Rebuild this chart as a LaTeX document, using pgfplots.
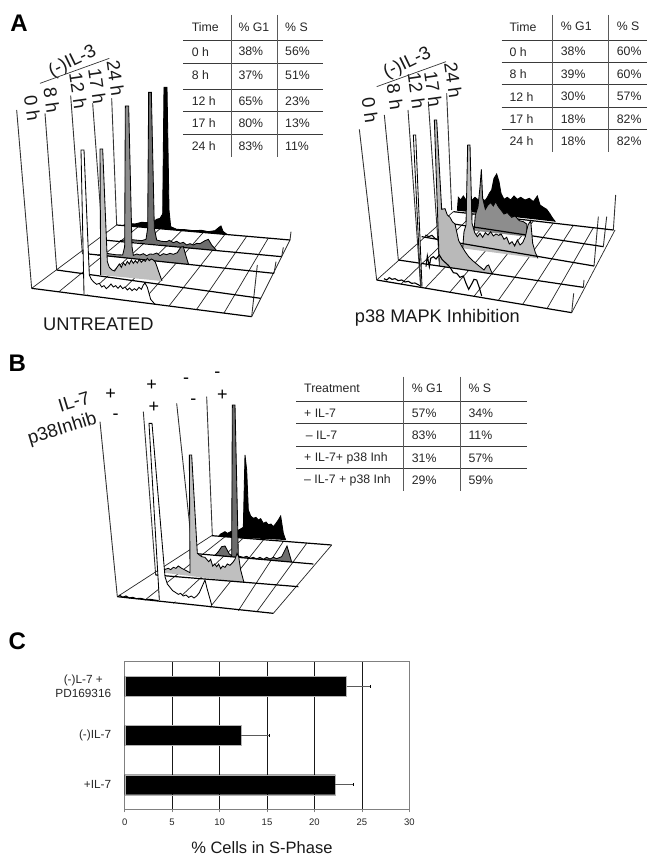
\documentclass[border=0pt]{standalone}
\usepackage{pgfplots}
\pgfplotsset{compat=1.18}
\usepackage{fontspec}
\setmainfont{Liberation Sans}
\definecolor{tl}{HTML}{3A3A3A}
\definecolor{ag}{HTML}{808080}
\pgfplotsset{panel/.style={at={(0pt,0pt)},anchor=south west,scale only axis,width=647pt,height=856pt,hide axis,clip=false,y dir=reverse}}
\newcommand\gl[1]{\addplot[black!85,line width=.7pt] coordinates {#1};}
\newcommand\wall[1]{\addplot[black!80,line width=.9pt] coordinates {#1};}
\newcommand\base[1]{\addplot[black,line width=1.2pt] coordinates {#1};}
\newcommand\tr[2]{\addplot[fill=#1,draw=none] coordinates {#2}--cycle;\addplot[black,line width=.85pt] coordinates {#2};}
\newcommand\noisy[1]{\addplot[black,line width=1.1pt] coordinates {#1};}
\newcommand\tb[3]{\node[anchor=west,font=\fontsize{12.3}{14}\selectfont,text=black!85,inner sep=0pt] at (axis cs:#1,#2) {#3};}
\newcommand\rl[3]{\node[rotate=#3,font=\fontsize{18.5}{20}\selectfont,inner sep=0pt,text=black!90] at (axis cs:#1) {#2};}
\newcommand\hl[3]{\draw[tl,line width=.75pt] (axis cs:#1,#3)--(axis cs:#2,#3);}
\newcommand\vl[3]{\draw[ag!70!black,line width=.85pt] (axis cs:#1,#2)--(axis cs:#1,#3);}
\newcommand\sgnx[3]{\node[font=\fontsize{18}{20}\selectfont,inner sep=0pt] at (axis cs:#1,#2) {#3};}
\begin{document}
\begin{tikzpicture}
\path[use as bounding box] (0,0) rectangle (647pt,856pt);
% --- text and tables, coordinates in 3x pixels
\begin{axis}[panel,xmin=0,xmax=1941,ymin=0,ymax=2568]
\node[font=\fontsize{24}{26}\bfseries] at (axis cs:57,70) {A};
\node[font=\fontsize{24}{26}\bfseries] at (axis cs:52,1090) {B};
\node[font=\fontsize{24}{26}\bfseries] at (axis cs:52,1925) {C};
\node[font=\fontsize{18.3}{20}\selectfont,text=black!90] at (axis cs:295,972) {UNTREATED};
\node[font=\fontsize{18.2}{20}\selectfont,text=black!90] at (axis cs:1312,953) {p38 MAPK Inhibition};
% table 1
\hl{550}{970}{122}\hl{550}{970}{190}\hl{550}{970}{268}\hl{550}{970}{335}\hl{550}{970}{403}
\vl{693}{45}{470}\vl{832}{45}{470}
\tb{575}{82}{Time}\tb{715}{82}{\% G1}\tb{855}{82}{\% S}
\tb{575}{155}{0 h}\tb{715}{155}{38\%}\tb{855}{155}{56\%}
\tb{575}{225}{8 h}\tb{715}{225}{37\%}\tb{855}{225}{51\%}
\tb{575}{303}{12 h}\tb{715}{303}{65\%}\tb{855}{303}{23\%}
\tb{575}{370}{17 h}\tb{715}{370}{80\%}\tb{855}{370}{13\%}
\tb{575}{438}{24 h}\tb{715}{438}{83\%}\tb{855}{438}{11\%}
% table 2
\hl{1505}{1941}{120}\hl{1505}{1941}{187}\hl{1505}{1941}{253}\hl{1505}{1941}{322}\hl{1505}{1941}{388}
\vl{1657}{45}{455}\vl{1825}{45}{455}
\tb{1528}{80}{Time}\tb{1682}{80}{\% G1}\tb{1850}{80}{\% S}
\tb{1528}{155}{0 h}\tb{1682}{155}{38\%}\tb{1850}{155}{60\%}
\tb{1528}{222}{8 h}\tb{1682}{222}{39\%}\tb{1850}{222}{60\%}
\tb{1528}{290}{12 h}\tb{1682}{290}{30\%}\tb{1850}{290}{57\%}
\tb{1528}{357}{17 h}\tb{1682}{357}{18\%}\tb{1850}{357}{82\%}
\tb{1528}{423}{24 h}\tb{1682}{423}{18\%}\tb{1850}{423}{82\%}
% table 3
\hl{888}{1580}{1205}\hl{888}{1580}{1271}\hl{888}{1580}{1339}\hl{888}{1580}{1405}
\vl{1211}{1130}{1472}\vl{1382}{1130}{1472}
\tb{912}{1166}{Treatment}\tb{1235}{1166}{\% G1}\tb{1405}{1166}{\% S}
\tb{912}{1240}{+ IL-7}\tb{1235}{1240}{57\%}\tb{1405}{1240}{34\%}
\tb{917}{1307}{– IL-7}\tb{1235}{1307}{83\%}\tb{1405}{1307}{11\%}
\tb{912}{1374}{+ IL-7+ p38 Inh}\tb{1235}{1374}{31\%}\tb{1405}{1374}{57\%}
\tb{912}{1442}{– IL-7 + p38 Inh}\tb{1235}{1442}{29\%}\tb{1405}{1442}{59\%}
% rotated labels panel A
\rl{218,185}{(-)IL-3}{26}
\rl{97,325}{0 h}{-82}\rl{155,300}{8 h}{-82}\rl{235,272}{12 h}{-82}\rl{292,258}{17 h}{-82}\rl{347,235}{24 h}{-82}
\rl{1222,190}{(-)IL-3}{26}
\rl{1110,330}{0 h}{-82}\rl{1185,290}{8 h}{-82}\rl{1250,272}{12 h}{-82}\rl{1300,268}{17 h}{-82}\rl{1360,240}{24 h}{-82}
\addplot[black!80,line width=.7pt] coordinates {(120,250)(328,175)};
\addplot[black!80,line width=.7pt] coordinates {(1130,260)(1338,185)};
% panel B labels
\rl{222,1205}{IL-7}{17}
\rl{187,1288}{p38Inhib}{17}
\sgnx{332}{1182}{+}\sgnx{455}{1157}{+}\sgnx{558}{1142}{-}\sgnx{652}{1123}{-}\sgnx{347}{1251}{-}\sgnx{462}{1223}{+}\sgnx{580}{1206}{-}\sgnx{667}{1186}{+}
\end{axis}
% --- panel A left, 3x pixels from (20,190)
\begin{axis}[panel,xmin=-60,xmax=1881,ymin=-570,ymax=1998]
\wall{(-10,-240)(35,295)}\wall{(75,-230)(110,240)}\wall{(152,-283)(187,190)}\wall{(218,-260)(248,150)}\wall{(275,-275)(290,105)}
\gl{(35,295)(290,105)}
\gl{(117,305)(355,110)}\gl{(200,316)(420,116)}\gl{(282,326)(485,122)}\gl{(365,337)(550,127)}\gl{(447,348)(615,133)}\gl{(530,358)(680,139)}\gl{(612,369)(745,144)}
\gl{(695,380)(810,150)}
\wall{(810,150)(813,125)}\wall{(785,200)(790,172)}\wall{(762,250)(768,215)}\wall{(695,380)(712,225)}
\tr{black}{(310,106)(325,100)(345,102)(365,97)(385,98)(400,95)(410,88)(420,85)(428,72)(432,-308)(441,-308)(447,60)(452,110)(470,118)(495,119)(520,122)(545,121)(565,125)(585,122)(597,112)(603,108)(609,124)(622,134)}
\base{(290,105)(810,150)}
\tr{ag!85!black}{(300,152)(325,148)(345,150)(365,152)(378,148)(383,115)(386,-293)(394,-293)(403,115)(410,150)(425,154)(440,155)(448,151)(460,158)(470,154)(480,160)(490,157)(500,165)(510,161)(520,165)(530,160)(540,161)(555,152)(565,148)(575,165)(590,182)}
\base{(250,150)(785,200)}
\tr{ag!90!white}{(232,196)(260,190)(285,194)(308,195)(314,170)(316,-252)(326,-252)(336,170)(340,196)(350,192)(360,195)(370,191)(380,197)(390,192)(400,193)(410,189)(420,197)(430,191)(440,194)(450,190)(460,193)(472,188)(482,172)(490,170)(497,195)(506,224)}
\base{(187,190)(762,250)}
\tr{gray!50}{(242,255)(240,-123)(248,-123)(262,215)(268,232)(276,240)(284,243)(291,232)(298,222)(304,232)(310,218)(316,226)(322,214)(328,222)(334,210)(340,220)(346,212)(352,219)(358,208)(364,217)(370,210)(376,214)(382,205)(388,212)(394,207)(400,210)(406,216)(416,245)(426,273)}
\base{(110,240)(722,325)}
\tr{white}{(192,312)(183,-120)(192,-120)(208,255)(214,268)(222,277)(230,283)(238,280)(245,291)(252,287)(259,296)(266,290)(273,282)(280,291)(287,287)(294,295)(301,287)(308,296)(315,291)(322,300)(329,294)(336,302)(343,296)(350,301)(357,292)(364,298)(370,285)(375,279)(382,292)(392,328)(405,343)}
\base{(35,295)(695,380)}
\end{axis}
% --- panel A right floor, 3x pixels from (370,180)
\begin{axis}[panel,xmin=-1110,xmax=831,ymin=-540,ymax=2028]
\wall{(-32,-152)(20,300)}\wall{(43,-195)(85,240)}
\gl{(20,300)(250,95)}
\gl{(93,312)(310,102)}\gl{(166,324)(370,109)}\gl{(239,337)(430,116)}\gl{(312,349)(490,123)}\gl{(385,361)(550,129)}\gl{(458,373)(610,136)}\gl{(531,386)(670,143)}
\gl{(605,398)(735,150)}
\wall{(730,150)(737,45)}\wall{(700,200)(710,110)}\wall{(672,258)(685,110)}\wall{(640,322)(642,300)}\wall{(605,398)(611,340)}
\end{axis}
% --- panel A right traces, 3x pixels from (400,110)
\begin{axis}[panel,xmin=-1200,xmax=741,ymin=-330,ymax=2238]
\wall{(85,-25)(118,455)}\wall{(140,-50)(155,300)}
\tr{black}{(172,302)(175,262)(182,270)(190,258)(198,270)(205,265)(215,272)(225,262)(235,270)(245,265)(255,272)(262,262)(268,250)(275,240)(282,205)(290,192)(297,215)(303,250)(312,268)(322,262)(332,270)(342,258)(352,268)(362,262)(375,270)(388,265)(400,275)(412,258)(420,285)(430,292)(440,298)(450,312)(458,325)(466,335)}
\base{(160,305)(640,360)}
\tr{ag!90!white}{(222,362)(226,315)(234,290)(240,230)(244,178)(248,265)(256,298)(264,285)(272,278)(280,288)(287,275)(295,290)(303,300)(312,312)(322,308)(335,322)(345,318)(358,332)(370,335)(380,342)(380,380)}
\base{(115,335)(610,410)}
\tr{gray!50}{(188,415)(192,365)(198,345)(203,105)(210,105)(216,340)(224,368)(232,380)(240,370)(248,382)(256,368)(264,375)(272,365)(280,378)(288,372)(296,376)(304,373)(312,388)(320,382)(328,402)(336,395)(344,408)(352,390)(360,405)(368,398)(376,380)(384,345)(392,332)(398,400)(406,428)(414,445)}
\base{(65,380)(582,468)}
\noisy{(76,375)(86,380)(96,376)(106,386)(116,390)}
\tr{gray!55}{(118,468)(103,30)(110,30)(125,298)(135,296)(142,315)(150,322)(157,335)(165,342)(170,365)(176,392)(186,410)(196,426)(206,440)(218,452)(230,462)(242,472)(252,480)(260,468)(266,465)(272,480)(278,493)}
\base{(-5,450)(550,532)}
\tr{white}{(62,530)(40,75)(47,75)(66,530)}
\wall{(24,0)(62,530)}
\noisy{(-48,506)(-40,510)(-32,503)(-24,508)(-15,506)(-5,512)(5,510)(15,516)(25,514)(35,520)(45,519)(60,527)}
\noisy{(78,470)(82,438)(88,470)(92,445)(100,440)(108,447)(118,435)(126,448)(134,456)(145,466)(152,475)(160,488)(170,490)(180,502)(190,498)(198,520)(206,538)(215,522)(222,508)(230,510)(237,530)(245,558)}
\base{(-70,510)(515,608)}
\end{axis}
% --- panel B, 3x pixels from (110,440)
\begin{axis}[panel,xmin=-330,xmax=1611,ymin=-1320,ymax=1248]
\wall{(-30,-55)(22,470)}\wall{(100,-85)(137,405)}\wall{(200,-110)(248,340)}\wall{(290,-130)(307,287)}
\gl{(22,470)(305,287)}
\gl{(105,480)(345,290)}\gl{(190,490)(400,294)}\gl{(300,502)(460,300)}\gl{(385,512)(520,304)}\gl{(440,516)(590,310)}
\gl{(490,520)(665,315)}
\tr{black}{(325,290)(332,282)(345,275)(352,280)(360,276)(368,272)(375,270)(382,272)(390,268)(400,262)(405,45)(410,90)(415,210)(422,228)(430,235)(438,232)(445,240)(452,236)(460,250)(468,246)(475,254)(483,252)(490,260)(498,250)(505,240)(512,228)(520,280)(527,300)}
\base{(305,287)(665,315)}
\tr{ag!85!black}{(315,346)(325,335)(335,320)(345,318)(358,342)(365,347)(367,-105)(375,-105)(385,348)(400,352)(410,349)(420,355)(430,352)(440,357)(450,352)(460,358)(470,352)(480,357)(490,352)(500,356)(515,350)(525,330)(531,318)(545,366)}
\base{(248,340)(610,372)}
\tr{gray!50}{(160,398)(165,388)(175,385)(182,389)(190,382)(198,385)(205,378)(215,385)(225,390)(240,398)(238,45)(245,45)(262,340)(268,345)(275,350)(285,352)(290,358)(296,365)(302,358)(308,378)(314,372)(320,380)(326,372)(332,386)(338,378)(345,382)(352,372)(360,376)(368,368)(375,358)(381,340)(386,350)(392,390)(402,428)}
\base{(137,405)(565,440)}
\tr{white}{(148,480)(117,-50)(126,-50)(165,410)(172,432)(180,442)(188,452)(196,457)(205,463)(212,460)(220,468)(228,465)(236,472)(244,468)(252,474)(260,468)(268,458)(276,440)(285,420)(291,445)(298,470)(305,495)}
\noisy{(28,465)(38,472)(48,468)(58,474)(68,472)(78,476)(92,475)(105,479)(120,478)(145,482)}
\base{(22,470)(490,520)}
\end{axis}
% --- panel C
\begin{axis}[at={(124.7pt,46.7pt)},anchor=south west,scale only axis,width=284.6pt,height=147.6pt,
 xmin=0,xmax=30,ymin=0.5,ymax=3.5,xbar,bar width=20pt,bar shift=0pt,
 xtick={0,5,...,30},ytick={1,2,3},yticklabels={+IL-7,(-)IL-7,{(-)L-7 +\\PD169316}},
 yticklabel style={align=center,font=\fontsize{11.8}{14}\selectfont,xshift=-7pt,text=black!85},
 xticklabel style={font=\fontsize{9.5}{10}\selectfont,yshift=-3pt,/pgf/number format/assume math mode=true,text=black!85},
 minor ytick={0.5,1.5,2.5,3.5},major tick length=3pt,minor tick length=3pt,
 ytick style={draw=none},minor tick style={ag,line width=.7pt},xtick style={ag,line width=.7pt},
 tick align=outside,tick pos=left,
 axis line style={ag,line width=1pt},
 xmajorgrids,grid style={black!90,line width=.7pt},
 x label style={at={(axis description cs:0.482,-0.262)},anchor=center,font=\fontsize{16.5}{18}\selectfont,text=black!90},
 xlabel={\% Cells in S-Phase}]
\addplot[fill=black,draw=ag!60!white,line width=.4pt,error bars/.cd,x dir=plus,x explicit,error bar style={ag!70!black,line width=.8pt},error mark options={black,line width=.7pt,rotate=90,mark size=1.5pt}]
 coordinates {(22.2,1) +- (1.9,0) (12.3,2) +- (2.9,0) (23.4,3) +- (2.5,0)};
\end{axis}
\end{tikzpicture}
\end{document}
